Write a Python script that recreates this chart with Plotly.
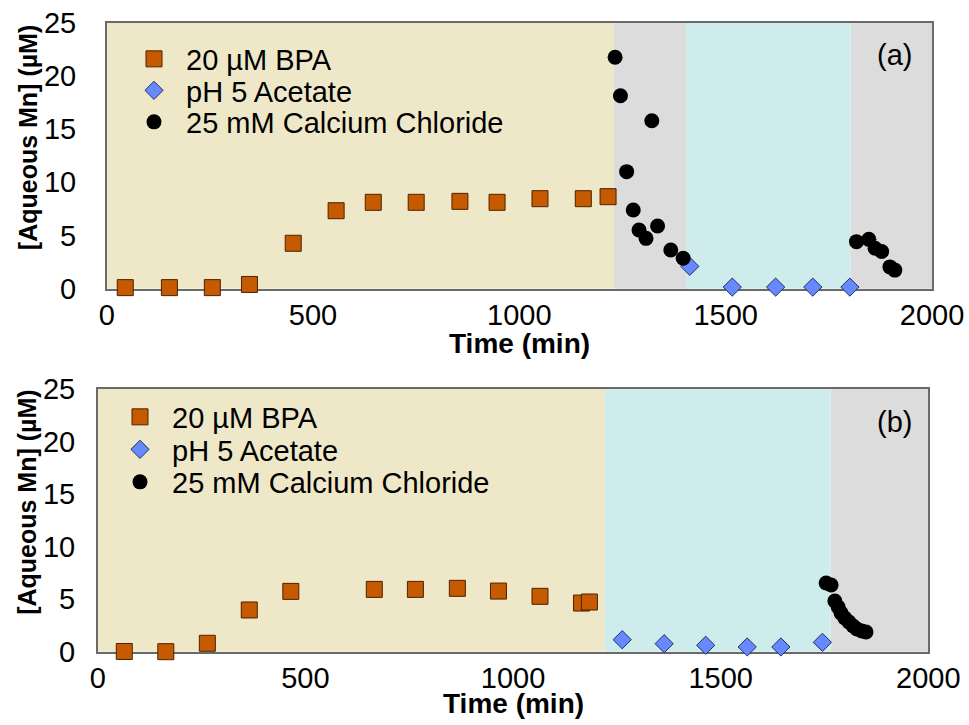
import plotly.graph_objects as go

# ---- panel (a) data ----
a_bpa_t = [45, 152, 256, 346, 452, 556, 646, 750, 856, 946, 1050, 1155, 1215]
a_bpa = [0.1, 0.1, 0.1, 0.4, 4.27, 7.33, 8.12, 8.12, 8.21, 8.12, 8.46, 8.46, 8.65]
a_ace_t = [1413, 1516, 1621, 1711, 1801]
a_ace = [2.1, 0.15, 0.15, 0.15, 0.15]
a_ca_t = [1232, 1245, 1260, 1276, 1290, 1307, 1321, 1335, 1367, 1397,
          1817, 1847, 1862, 1878, 1898, 1910]
a_ca = [21.75, 18.14, 11.0, 7.4, 5.52, 4.73, 15.79, 5.89, 3.64, 2.86,
        4.42, 4.64, 3.8, 3.5, 2.05, 1.75]
# treatment periods: (start, end, phase)
a_phases = [(0, 1229, "bpa"), (1229, 1404, "ca"), (1404, 1803, "ace"), (1803, 2000, "ca")]

# ---- panel (b) data ----
b_bpa_t = [64, 164, 264, 365, 465, 666, 765, 866, 965, 1065, 1165, 1184]
b_bpa = [0.02, 0.0, 0.8, 3.97, 5.74, 5.93, 5.93, 6.03, 5.77, 5.27, 4.63, 4.73]
b_ace_t = [1263, 1364, 1464, 1564, 1645, 1745]
b_ace = [1.14, 0.76, 0.61, 0.45, 0.45, 0.89]
b_ca_t = [1754, 1766, 1775, 1783, 1790, 1799, 1809, 1819, 1828, 1840, 1850]
b_ca = [6.54, 6.35, 4.83, 4.25, 3.68, 3.21, 2.83, 2.44, 2.16, 1.97, 1.87]
b_phases = [(0, 1221, "bpa"), (1221, 1765, "ace"), (1765, 2000, "ca")]

x_ticks = [0, 500, 1000, 1500, 2000]
y_ticks = [0, 5, 10, 15, 20, 25]
series_names = ["20 µM BPA", "pH 5 Acetate", "25 mM Calcium Chloride"]

FONT = "Liberation Sans, Arial, sans-serif"
W, H = 969, 725
band_colors = {"bpa": "#EFE8C8", "ace": "#CEECEC", "ca": "#DCDCDC"}

sq = dict(symbol="square", size=16, color="#C55A00", line=dict(color="#4A2200", width=1))
dm = dict(symbol="diamond", size=14, color="#6689FF", line=dict(color="#22305A", width=1))
ci = dict(symbol="circle", size=15, color="#000000", line=dict(width=0))

# plot-area boxes in pixels; ygap is the clearance between y labels and frame
pa = dict(l=106.7, r=932.0, t=22.7, b=288.7, key_x=154, key_y=[59, 90.5, 122], ygap=23)
pb = dict(l=97.7, r=928.3, t=389.0, b=651.7, key_x=140, key_y=[417, 449.5, 482], ygap=15)

fig = go.Figure()
legend_layout = {}
panels = [
    ("x", "y", pa, a_bpa_t, a_bpa, a_ace_t, a_ace, a_ca_t, a_ca),
    ("x2", "y2", pb, b_bpa_t, b_bpa, b_ace_t, b_ace, b_ca_t, b_ca),
]
k = 0
for xa, ya, p, t1, v1, t2, v2, t3, v3 in panels:
    for i, (t, v, m, name) in enumerate([(t1, v1, sq, series_names[0]),
                                         (t2, v2, dm, series_names[1]),
                                         (t3, v3, ci, series_names[2])]):
        k += 1
        lname = "legend" if k == 1 else f"legend{k}"
        fig.add_trace(go.Scatter(x=t, y=v, mode="markers", marker=m, name=name,
                                 xaxis=xa, yaxis=ya, legend=lname, cliponaxis=False))
        # one key entry per legend box so each row sits at its own height
        legend_layout[lname] = dict(
            font=dict(family=FONT, size=29, color="black"),
            bgcolor="rgba(0,0,0,0)", borderwidth=0, itemwidth=54,
            x=(p["key_x"] - 32) / W, xanchor="left",
            y=1 - p["key_y"][i] / H, yanchor="middle")

shapes = []
for xr, yr, phases in [("x", "y domain", a_phases), ("x2", "y2 domain", b_phases)]:
    for x0, x1, ph in phases:
        shapes.append(dict(type="rect", xref=xr, yref=yr, x0=x0, x1=x1, y0=0, y1=1,
                           fillcolor=band_colors[ph], line=dict(width=0), layer="below"))


def xdom(p):
    return [p["l"] / W, p["r"] / W]


def ydom(p):
    return [1 - p["b"] / H, 1 - p["t"] / H]


axis_common = dict(showgrid=False, zeroline=False, showline=True,
                   linecolor="#6A6A6A", linewidth=1.5, mirror=True, layer="below traces",
                   automargin=False,
                   tickfont=dict(family=FONT, size=29, color="black"))
xcommon = dict(axis_common, range=[0, 2000], tickvals=x_ticks, ticks="")
# invisible outside ticks hold the y labels away from the frame
ycommon = dict(axis_common, range=[0, 25], tickvals=y_ticks, ticks="outside",
               tickcolor="rgba(0,0,0,0)")

annotations = []
for p, tag, dy in [(pa, "(a)", 0), (pb, "(b)", -3)]:
    annotations.append(dict(text=tag, xref="paper", yref="paper",
                            x=894.5 / W, y=1 - (p["t"] + 32.5) / H,
                            xanchor="center", yanchor="middle", showarrow=False,
                            font=dict(family=FONT, size=29, color="black")))
    annotations.append(dict(text="<b>Time (min)</b>", xref="paper", yref="paper",
                            x=(p["l"] + p["r"]) / 2 / W, y=1 - (p["b"] + 55 + dy) / H,
                            xanchor="center", yanchor="middle", showarrow=False,
                            font=dict(family=FONT, size=28, color="black")))
    annotations.append(dict(text="<b>[Aqueous Mn] (µM)</b>", xref="paper", yref="paper",
                            x=27.5 / W, y=1 - ((p["t"] + p["b"]) / 2 - 18) / H,
                            xanchor="center", yanchor="middle", textangle=-90,
                            showarrow=False, font=dict(family=FONT, size=25, color="black")))

fig.update_layout(
    width=W, height=H,
    margin=dict(l=0, r=0, t=0, b=0, pad=0),
    paper_bgcolor="white", plot_bgcolor="rgba(0,0,0,0)",
    xaxis=dict(xcommon, domain=xdom(pa), anchor="y"),
    yaxis=dict(ycommon, domain=ydom(pa), anchor="x", ticklen=pa["ygap"]),
    xaxis2=dict(xcommon, domain=xdom(pb), anchor="y2"),
    yaxis2=dict(ycommon, domain=ydom(pb), anchor="x2", ticklen=pb["ygap"]),
    shapes=shapes,
    annotations=annotations,
    showlegend=True,
    **legend_layout,
)

fig.write_html("out.html")
